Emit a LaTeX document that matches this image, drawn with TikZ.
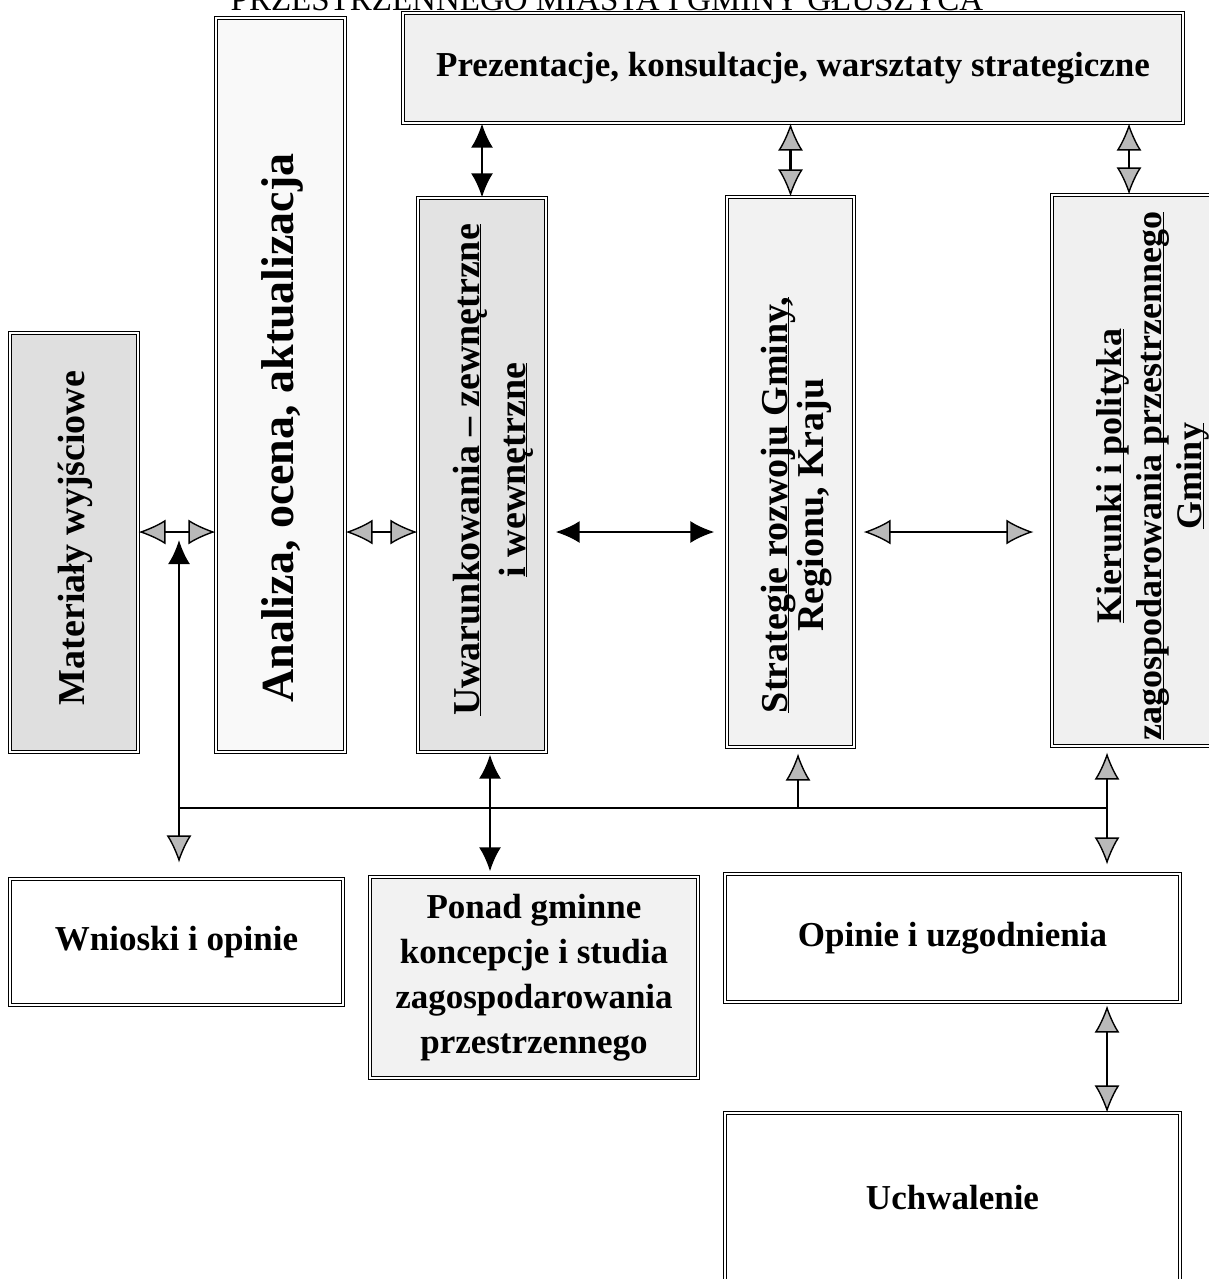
\documentclass[tikz,border=0pt]{standalone}
\usepackage{fontspec}
\setmainfont{Liberation Serif}
\usetikzlibrary{arrows.meta}

% podkreslenie tuz pod linia bazowa
\newcommand\podkr[1]{\underline{\raisebox{0pt}[\height][0pt]{#1}}}

\begin{document}
\begin{tikzpicture}[
        x=1pt, y=-1pt,
        blok/.style={draw, double, double distance=2.4pt, line width=1.2pt,
            inner sep=0pt, align=center,
            font=\bfseries\fontsize{35}{45}\selectfont},
        pion/.style={rotate=90, align=center, inner sep=0pt,
            font=\bfseries\fontsize{38}{42}\selectfont},
        pf/.style={line width=2.4pt},
        szary/.style={>={Latex[length=27pt,width=25pt,fill=gray!55,line width=1.4pt]}},
        >={Latex[length=24pt,width=22pt]} % Groty strzalek
        ]
            \useasboundingbox (0,0) rectangle (1209,1279);

            % Tytul (uciety)
            \node [anchor=base, inner sep=0pt, font=\fontsize{33}{36}\selectfont]
                (tytul) at (607,11) {PRZESTRZENNEGO MIASTA I GMINY GŁUSZYCA};

            % Bloki
            \node [blok, fill=gray!12, minimum width=780pt, minimum height=110pt]
                (prez) at (793,68) {Prezentacje, konsultacje, warsztaty strategiczne};
            \node [blok, fill=gray!5, minimum width=129pt, minimum height=734pt]
                (anal) at (280.5,385) {};
            \node [blok, fill=gray!25, minimum width=128pt, minimum height=419pt]
                (mat) at (74,542.5) {};
            \node [blok, fill=gray!22, minimum width=128pt, minimum height=554pt]
                (uwar) at (482,475) {};
            \node [blok, fill=gray!10, minimum width=127pt, minimum height=550pt]
                (strat) at (790.5,472) {};
            \node [blok, fill=gray!12, minimum width=170pt, minimum height=551pt]
                (kier) at (1137,470.5) {};
            \node [blok, minimum width=333pt, minimum height=126pt]
                (wn) at (176.5,942) {Wnioski i opinie};
            \node [blok, fill=gray!10, minimum width=328pt, minimum height=201pt]
                (ponad) at (534,977.5) {Ponad gminne\\koncepcje i studia\\zagospodarowania\\przestrzennego};
            \node [blok, minimum width=455pt, minimum height=128pt]
                (opin) at (952.5,938) {Opinie i uzgodnienia};
            \node [blok, minimum width=455pt, minimum height=169pt]
                (uchw) at (952.5,1197.5) {Uchwalenie};

            % Napisy pionowe
            \node [pion] (mat-t) at (75,538) {Materiały wyjściowe};
            \node [pion, font=\bfseries\fontsize{46}{50}\selectfont]
                (anal-t) at (282,428) {Analiza, ocena, aktualizacja};
            \node [pion, font=\bfseries\fontsize{38}{46}\selectfont]
                (uwar-t) at (490,470) {\podkr{Uwarunkowania – zewnętrzne}\\\podkr{i wewnętrzne}};
            \node [pion, font=\bfseries\fontsize{38}{36}\selectfont]
                (strat-t) at (796,505) {\podkr{Strategie rozwoju Gminy,}\\Regionu, Kraju};
            \node [pion, font=\bfseries\fontsize{36}{40}\selectfont]
                (kier-t) at (1150,476) {\podkr{Kierunki i polityka}\\\podkr{zagospodarowania przestrzennego}\\\podkr{Gminy}};

            % Punkty pomocnicze
            \coordinate (rz) at (0,532);
            \coordinate (bus-l) at (179,808);
            \coordinate (bus-r) at (1107,808);
            \coordinate (kier-x) at (1129,0);
            \coordinate (uwar-x) at (490,0);
            \coordinate (strat-x) at (798,0);

            % Strzalki gorne
            \draw [pf, <->] (prez.south -| uwar.north) -- (uwar.north);
            \draw [pf, <->, szary] (prez.south -| strat.north) -- (strat.north);
            \draw [pf, <->, szary] (kier-x |- prez.south) -- (kier-x |- kier.north);

            % Strzalki poziome
            \draw [pf, <->, szary] (mat.east |- rz) -- (anal.west |- rz);
            \draw [pf, <->, szary] (anal.east |- rz) -- (uwar.west |- rz);
            \draw [pf, <->, shorten <=9pt, shorten >=12pt] (uwar.east |- rz) -- (strat.west |- rz);
            \draw [pf, <->, szary, shorten <=9pt, shorten >=18pt] (strat.east |- rz) -- (kier.west |- rz);

            % Szyna dolna
            \draw [pf] (bus-l) -- (bus-r);
            \draw [pf, ->, shorten >=8pt] (bus-l) -- (bus-l |- rz);
            \draw [pf, ->, szary, shorten >=16pt] (bus-l) -- (bus-l |- wn.north);
            \draw [pf, <->, shorten <=2pt, shorten >=5pt] (uwar-x |- uwar.south) -- (uwar-x |- ponad.north);
            \draw [pf, ->, szary, shorten >=6pt] (strat-x |- bus-l) -- (strat-x |- strat.south);
            \draw [pf, <->, szary, shorten <=6pt, shorten >=9pt] (bus-r |- kier.south) -- (bus-r |- opin.north);
            \draw [pf, <->, szary, shorten <=3pt] (bus-r |- opin.south) -- (bus-r |- uchw.north);
        \end{tikzpicture}
\end{document}
